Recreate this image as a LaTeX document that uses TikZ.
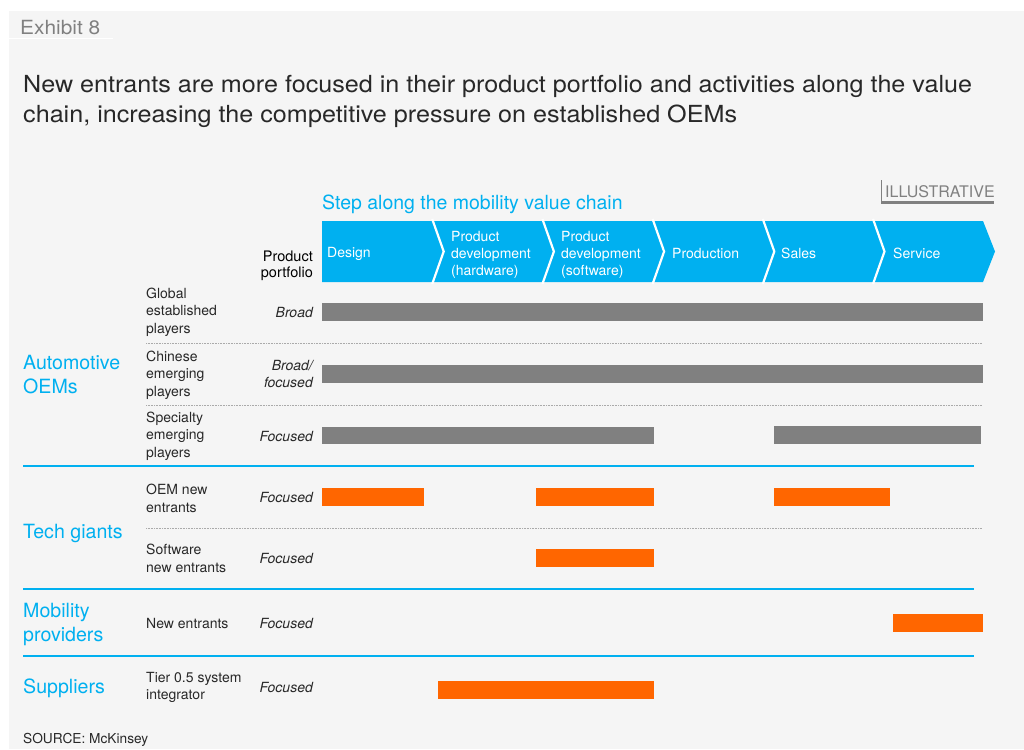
\documentclass[tikz,border=0pt]{standalone}
\usepackage{fontspec}
\setmainfont{TeX Gyre Heros}
\newfontfamily\widefont[FakeStretch=1.07]{TeX Gyre Heros}
\definecolor{bg}{RGB}{245,245,245}
\definecolor{mck}{RGB}{0,176,240}
\definecolor{bargray}{RGB}{128,128,128}
\definecolor{orng}{RGB}{255,102,0}
\definecolor{txt}{RGB}{40,40,40}
\definecolor{dotc}{RGB}{170,170,170}
\begin{document}
\begin{tikzpicture}[x=1pt,y=-1pt,
  lab/.style={anchor=west, inner sep=0pt, align=left, font=\fontsize{14}{17.3}\selectfont, text=txt},
  foc/.style={anchor=east, inner sep=0pt, align=right, font=\fontsize{14}{16.5}\selectfont\itshape, text=txt},
  grp/.style={anchor=west, inner sep=0pt, align=left, font=\fontsize{19.6}{24}\selectfont, text=mck},
  chev/.style={anchor=west, inner sep=0pt, align=left, font=\fontsize{14}{17}\selectfont, text=white},
  gbar/.style={fill=bargray},
  obar/.style={fill=orng},
  sep/.style={draw=mck, line width=1.3pt},
  dotsep/.style={draw=dotc, line width=1pt, dash pattern=on 0.8pt off 0.8pt}
]
\useasboundingbox (0,0) rectangle (1024,749);
\fill[white] (0,0) rectangle (1024,749);
\fill[bg] (9,11) rectangle (1024,749);
\draw[white, line width=1pt] (9,39) -- (113,39);

% headings
\node[anchor=west, inner sep=0pt, font=\widefont\fontsize{19.5}{22}\selectfont, text=bargray] (exh) at (20,28) {Exhibit 8};
\node[anchor=west, inner sep=0pt, align=left, font=\widefont\fontsize{23.5}{30}\selectfont, text=txt] (title) at (23,101)
  {New entrants are more focused in their product portfolio and activities along the value\\chain, increasing the competitive pressure on established OEMs};

\node[anchor=west, inner sep=0pt, font=\fontsize{19.5}{22}\selectfont, text=mck] (step) at (322,204) {Step along the mobility value chain};
\node[anchor=base west, inner sep=0pt, font=\fontsize{16}{18}\selectfont, text=bargray] (illu) at (885,197) {ILLUSTRATIVE};
\draw[bargray, line width=0.6pt] (881,180) -- (881,203);
\draw[bargray, line width=2.5pt] (881,202.5) -- (994,202.5);

% chevrons
\fill[mck] (322,221) -- (983,221) -- (995,251.5) -- (983,282) -- (322,282) -- cycle;
\foreach \xb in {432.2,542.4,652.6,762.8,873}
  \draw[white, line width=2.2pt] (\xb,219) -- (\xb+11.5,251.5) -- (\xb,284);
\node[chev] (c1) at (327,253.5) {Design};
\node[chev] (c2) at (451,255) {Product\\development\\(hardware)};
\node[chev] (c3) at (561,255) {Product\\development\\(software)};
\node[chev] (c4) at (672,253.5) {Production};
\node[chev] (c5) at (781,253.5) {Sales};
\node[chev] (c6) at (893,253.5) {Service};

\node[anchor=east, inner sep=0pt, align=right, font=\fontsize{14.5}{16.5}\selectfont, text=black] (pp) at (313,266) {Product\\portfolio};

% group labels
\node[grp] (g1) at (23,375) {Automotive\\OEMs};
\node[grp] (g2) at (23,533) {Tech giants};
\node[grp] (g3) at (23,624) {Mobility\\providers};
\node[grp] (g4) at (23,688) {Suppliers};

% sub labels
\node[lab] (s1) at (146,312) {Global\\established\\players};
\node[lab] (s2) at (146,375) {Chinese\\emerging\\players};
\node[lab] (s3) at (146,436) {Specialty\\emerging\\players};
\node[lab] (s4) at (146,498.5) {OEM new\\entrants};
\node[lab] (s5) at (146,558.5) {Software\\new entrants};
\node[lab] (s6) at (146,623) {New entrants};
\node[lab] (s7) at (146,687.5) {Tier 0.5 system\\integrator};

% portfolio labels
\node[foc] (f1) at (313,312) {Broad};
\node[foc] (f2) at (313,374) {Broad/\\focused};
\node[foc] (f3) at (313,436) {Focused};
\node[foc] (f4) at (313,497) {Focused};
\node[foc] (f5) at (313,558) {Focused};
\node[foc] (f6) at (313,623) {Focused};
\node[foc] (f7) at (313,687) {Focused};

% separators
\draw[dotsep] (146,343) -- (982,343);
\draw[dotsep] (146,405) -- (982,405);
\draw[sep] (23,466) -- (974,466);
\draw[dotsep] (146,528) -- (982,528);
\draw[sep] (23,589) -- (974,589);
\draw[sep] (23,656) -- (974,656);

% bars
\fill[gbar] (322,303) rectangle (983,321);
\fill[gbar] (322,365) rectangle (983,383);
\fill[gbar] (322,427) rectangle (654,444);
\fill[gbar] (774,426) rectangle (981,444);
\fill[obar] (322,488) rectangle (424,506);
\fill[obar] (536,488) rectangle (654,506);
\fill[obar] (774,488) rectangle (890,506);
\fill[obar] (536,549) rectangle (654,567);
\fill[obar] (893,614) rectangle (983,632);
\fill[obar] (438,681) rectangle (654,699);

\node[anchor=west, inner sep=0pt, font=\fontsize{13.7}{17}\selectfont, text=txt] (src) at (23,740) {SOURCE: McKinsey};
\end{tikzpicture}
\end{document}
